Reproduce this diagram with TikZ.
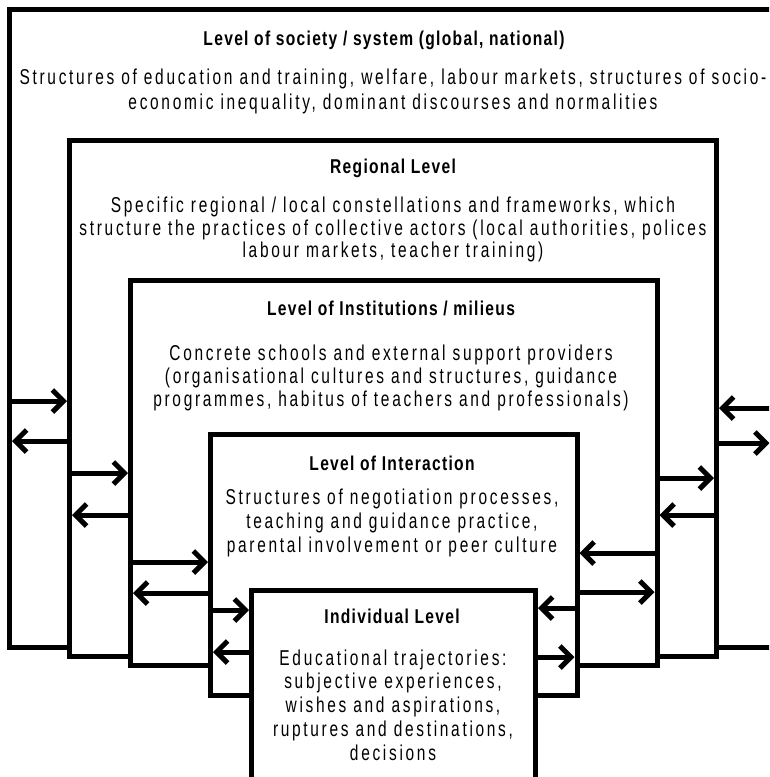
\documentclass[tikz,border=0pt]{standalone}
\usepackage{fontspec}
\setmainfont{Liberation Sans}[FakeStretch=0.72,LetterSpace=12.5]
\newfontfamily\tfont{Liberation Sans}[FakeStretch=0.78,LetterSpace=6.5]
\usetikzlibrary{arrows.meta}
\begin{document}
\begin{tikzpicture}[x=1pt,y=1pt,
  lvl/.style={draw, line width=5pt, fill=white, inner sep=0pt, outer sep=0pt},
  ttl/.style={font=\tfont\bfseries\fontsize{20}{24}\selectfont, inner sep=0pt},
  body/.style={font=\fontsize{21.5}{#1}\selectfont, align=center, inner sep=0pt},
  arr/.style={line width=5pt, -{Straight Barb[length=11pt,width=22pt]}, shorten >=2.5pt}]
\useasboundingbox (0,0) rectangle (769,-777);
\clip (0,0) rectangle (769,-777);
% boxes
\node[lvl, minimum width=762.5pt, minimum height=637.5pt] (L1) at (390.75,-328.25) {};
\node[lvl, minimum width=647pt, minimum height=516pt] (L2) at (393,-398.5) {};
\node[lvl, minimum width=526.5pt, minimum height=385.5pt] (L3) at (393.75,-472.75) {};
\node[lvl, minimum width=366.5pt, minimum height=261pt] (L4) at (393.75,-565) {};
\node[lvl, minimum width=284pt, minimum height=209.5pt] (L5) at (393.5,-695.25) {};
% texts
\node[ttl] (t1) at (384,-40) {Level of society / system (global, national)};
\node[body=25pt] (b1) at (393,-91) {Structures of education and training, welfare, labour markets, structures of socio-\\economic inequality, dominant discourses and normalities};
\node[ttl] (t2) at (393,-168) {Regional Level};
\node[body=22.5pt] (b2) at (393,-229.5) {Specific regional / local constellations and frameworks, which\\structure the practices of collective actors (local authorities, polices\\labour markets, teacher training)};
\node[ttl] (t3) at (391,-308) {Level of Institutions / milieus};
\node[body=23pt] (b3) at (391,-377.5) {Concrete schools and external support providers\\(organisational cultures and structures, guidance\\programmes, habitus of teachers and professionals)};
\node[ttl] (t4) at (392,-463) {Level of Interaction};
\node[body=24pt] (b4) at (392,-522.5) {Structures of negotiation processes,\\teaching and guidance practice,\\parental involvement or peer culture};
\node[ttl] (t5) at (392,-616) {Individual Level};
\node[body=23.75pt] (b5) at (393,-705) {Educational trajectories:\\subjective experiences,\\wishes and aspirations,\\ruptures and destinations,\\decisions};
% left arrows
\draw[arr] (L1.west |- 0,-401) -- (L2.west |- 0,-401);
\draw[arr] (L2.west |- 0,-441) -- (L1.west |- 0,-441);
\draw[arr] (L2.west |- 0,-473) -- (L3.west |- 0,-473);
\draw[arr] (L3.west |- 0,-515) -- (L2.west |- 0,-515);
\draw[arr] (L3.west |- 0,-562) -- (L4.west |- 0,-562);
\draw[arr] (L4.west |- 0,-593) -- (L3.west |- 0,-593);
\draw[arr] (L4.west |- 0,-610) -- (L5.west |- 0,-610);
\draw[arr] (L5.west |- 0,-652) -- (L4.west |- 0,-652);
% right arrows
\draw[arr] (L1.east |- 0,-408) -- (L2.east |- 0,-408);
\draw[arr] (L2.east |- 0,-443) -- (L1.east |- 0,-443);
\draw[arr] (L3.east |- 0,-478) -- (L2.east |- 0,-478);
\draw[arr] (L2.east |- 0,-515) -- (L3.east |- 0,-515);
\draw[arr] (L3.east |- 0,-553) -- (L4.east |- 0,-553);
\draw[arr] (L4.east |- 0,-592) -- (L3.east |- 0,-592);
\draw[arr] (L4.east |- 0,-608) -- (L5.east |- 0,-608);
\draw[arr] (L5.east |- 0,-657) -- (L4.east |- 0,-657);
\end{tikzpicture}
\end{document}
